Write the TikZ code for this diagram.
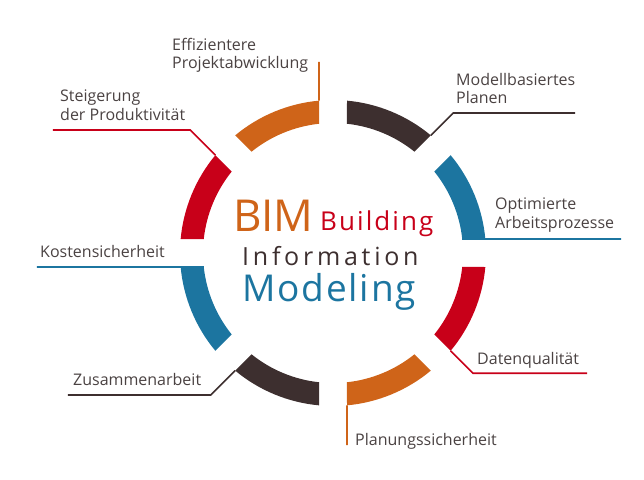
\documentclass[tikz,border=0pt]{standalone}
\usepackage{fontspec}
\setmainfont{Open Sans}
\definecolor{bimorange}{HTML}{CF6419}
\definecolor{bimdark}{HTML}{3D2F2F}
\definecolor{bimblue}{HTML}{1C75A0}
\definecolor{bimred}{HTML}{C80019}
\definecolor{labelgray}{HTML}{4A4242}
\tikzset{
  label/.style={anchor=north west, inner sep=0pt, align=left, text=labelgray,
    font=\fontsize{16}{18.5}\selectfont},
  leader/.style={line width=1.6pt},
  center/.style={anchor=base west, inner sep=0pt}
}
\begin{document}
\begin{tikzpicture}[x=1pt, y=1pt]
\useasboundingbox (-333,-226) rectangle (311,253);

% ring segments
\fill[bimorange] (95.25:153) arc[start angle=95.25, end angle=129.75, radius=153] -- (128.82:130) arc[start angle=128.82, end angle=96.18, radius=130] -- cycle;
\fill[bimdark] (50.25:153) arc[start angle=50.25, end angle=84.75, radius=153] -- (83.82:130) arc[start angle=83.82, end angle=51.18, radius=130] -- cycle;
\fill[bimblue] (5.25:153) arc[start angle=5.25, end angle=39.75, radius=153] -- (38.82:130) arc[start angle=38.82, end angle=6.18, radius=130] -- cycle;
\fill[bimred] (-39.75:153) arc[start angle=-39.75, end angle=-5.25, radius=153] -- (-6.18:130) arc[start angle=-6.18, end angle=-38.82, radius=130] -- cycle;
\fill[bimorange] (-84.75:153) arc[start angle=-84.75, end angle=-50.25, radius=153] -- (-51.18:130) arc[start angle=-51.18, end angle=-83.82, radius=130] -- cycle;
\fill[bimdark] (-129.75:153) arc[start angle=-129.75, end angle=-95.25, radius=153] -- (-96.18:130) arc[start angle=-96.18, end angle=-128.82, radius=130] -- cycle;
\fill[bimblue] (185.25:153) arc[start angle=185.25, end angle=219.75, radius=153] -- (218.82:130) arc[start angle=218.82, end angle=186.18, radius=130] -- cycle;
\fill[bimred] (140.25:153) arc[start angle=140.25, end angle=174.75, radius=153] -- (173.82:130) arc[start angle=173.82, end angle=141.18, radius=130] -- cycle;

% segment ends
\coordinate (c1) at (95.25:153);
\coordinate (c2) at (50.25:153);
\coordinate (c3) at (6.18:130);
\coordinate (c4) at (-39.75:153);
\coordinate (c5) at (-84.75:153);
\coordinate (c6) at (-129.75:153);
\coordinate (c7) at (186.18:130);
\coordinate (c8) at (140.25:153);

% bends and free ends
\coordinate (e1) at (-14,191);
\coordinate (b2) at (120.2,140);
\coordinate (e2) at (242,140);
\coordinate (e3) at (288,14);
\coordinate (b4) at (140,-120.2);
\coordinate (e4) at (254,-120.2);
\coordinate (e5) at (14,-192);
\coordinate (b6) at (-122.2,-142);
\coordinate (e6) at (-265,-142);
\coordinate (e7) at (-296,-14);
\coordinate (b8) at (-142.8,123);
\coordinate (e8) at (-280,123);

\draw[leader, bimorange] (c1) -- (e1);
\draw[leader, bimdark] (c2) -- (b2) -- (e2);
\draw[leader, bimblue] (c3) -- (e3);
\draw[leader, bimred] (c4) -- (b4) -- (e4);
\draw[leader, bimorange] (c5) -- (e5);
\draw[leader, bimdark] (c6) -- (b6) -- (e6);
\draw[leader, bimblue] (c7) -- (e7);
\draw[leader, bimred] (c8) -- (b8) -- (e8);

% labels
\node[label] (effizienz) at (-161,215) {Effizientere\\Projektabwicklung};
\node[label] (modell) at (123,180) {Modellbasiertes\\Planen};
\node[label] (prozesse) at (162,55) {Optimierte\\Arbeitsprozesse};
\node[label] (daten) at (144,-99) {Datenqualität};
\node[label] (planung) at (22,-180) {Planungssicherheit};
\node[label] (zusammen) at (-260,-120) {Zusammenarbeit};
\node[label] (kosten) at (-293,8) {Kostensicherheit};
\node[label] (steigerung) at (-273,163) {Steigerung\\der Produktivität};

% center title
\node[center, text=bimorange, font=\fontsize{44}{44}\selectfont] (bim) at (-100,22) {BIM};
\node[center, text=bimred, font=\fontsize{26}{26}\selectfont\addfontfeature{LetterSpace=8}] (building) at (-13,23) {Building};
\node[center, text=bimdark, font=\fontsize{25}{25}\selectfont\addfontfeature{LetterSpace=15}] (information) at (-91,-12) {Information};
\node[center, text=bimblue, font=\fontsize{37}{37}\selectfont\addfontfeature{LetterSpace=5}] (modeling) at (-91,-48) {Modeling};
\end{tikzpicture}
\end{document}
